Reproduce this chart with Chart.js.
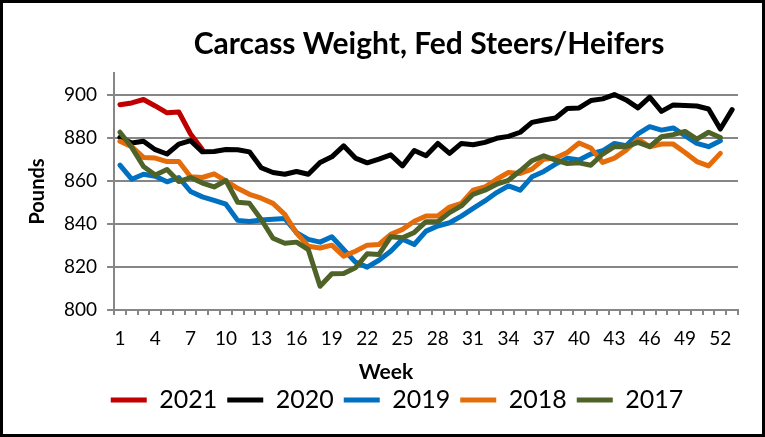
<!DOCTYPE html>
<html>
<head>
<meta charset="utf-8">
<script src="https://cdn.jsdelivr.net/npm/chart.js@4"></script>
<style>
  html, body { margin: 0; padding: 0; background: #fff; }
  #wrap { position: relative; width: 765px; height: 437px; box-sizing: border-box; border: 3px solid #000; background: #fff; }
</style>
</head>
<body>
<div id="wrap"><canvas id="grafico"></canvas></div>
<script>
const semanas = ['1','2','3','4','5','6','7','8','9','10','11','12','13','14','15','16','17','18','19','20',
  '21','22','23','24','25','26','27','28','29','30','31','32','33','34','35','36','37','38','39','40',
  '41','42','43','44','45','46','47','48','49','50','51','52','53'];

const marcasY = [800, 820, 840, 860, 880, 900];

const peso2021 = [895.3, 896.1, 897.7, 894.7, 891.5, 891.9, 881.7, 874.5];

const peso2020 = [880.1, 877.5, 878.3, 874.4, 872.4, 877.0, 878.6, 873.4, 873.6, 874.5,
  874.4, 873.4, 866.0, 863.8, 863.0, 864.3, 863.0, 868.5, 871.1, 876.2,
  870.5, 868.3, 870.0, 872.0, 866.9, 874.0, 871.6, 877.3, 872.7, 877.3,
  876.7, 877.8, 879.7, 880.6, 882.5, 887.1, 888.2, 889.1, 893.5, 893.8,
  897.2, 898.0, 900.0, 897.5, 893.8, 898.8, 892.2, 895.2, 894.9, 894.7,
  893.3, 884.0, 893.0];

const peso2019 = [867.2, 860.7, 863.0, 862.1, 859.5, 861.5, 855.0, 852.5, 850.9, 849.1,
  841.6, 841.1, 841.8, 842.1, 842.5, 835.9, 832.8, 831.5, 834.0, 828.1,
  822.2, 819.9, 823.1, 827.3, 832.8, 830.4, 836.6, 839.0, 840.5, 843.6,
  847.2, 850.6, 854.5, 857.6, 855.6, 861.8, 864.3, 867.7, 870.5, 869.6,
  872.4, 873.9, 877.3, 876.2, 881.7, 885.1, 883.5, 884.5, 880.9, 877.3,
  875.8, 878.6];

const peso2018 = [878.3, 875.8, 870.8, 870.5, 868.9, 868.9, 861.8, 861.5, 863.2, 859.9,
  856.5, 853.7, 851.9, 849.5, 844.4, 835.7, 829.6, 828.8, 830.1, 825.0,
  827.3, 830.1, 830.4, 835.1, 837.4, 841.2, 843.6, 843.6, 847.8, 849.5,
  855.6, 857.1, 860.7, 863.8, 863.4, 865.4, 870.0, 870.5, 873.1, 877.5,
  875.2, 868.5, 870.5, 874.2, 879.3, 875.8, 877.0, 877.0, 873.1, 868.9,
  866.9, 872.7];

const peso2017 = [882.5, 875.5, 866.6, 862.7, 865.2, 859.6, 861.5, 858.9, 857.1, 860.1,
  850.0, 849.5, 842.0, 833.3, 831.0, 831.5, 828.0, 811.0, 816.8, 816.9,
  819.6, 826.1, 825.8, 834.0, 833.5, 836.0, 841.0, 841.0, 845.2, 848.3,
  853.7, 855.6, 858.4, 860.2, 864.6, 869.3, 871.6, 869.6, 868.0, 868.3,
  867.2, 872.4, 875.8, 875.8, 877.8, 875.8, 880.4, 881.4, 882.9, 879.3,
  882.5, 880.1];

const cinza = '#868686';
const fonte = 'Lato, "Open Sans", sans-serif';

// moves title / subtitle / legend boxes to where they sit in the original
function mover(box, cx, cy) {
  const dx = cx - (box.left + box.right) / 2;
  const dy = cy - (box.top + box.bottom) / 2;
  box.left += dx; box.right += dx;
  box.top += dy; box.bottom += dy;
}

const posicoes = {
  id: 'posicoes',
  afterLayout(chart) {
    chart.boxes.forEach(b => {
      if (b === chart.titleBlock) {
        mover(b, 426, 41);
      } else if (b === chart.legend) {
        mover(b, 394, 397);
      } else if (b.options && b.options.text === 'Week') {
        mover(b, 383, 369);
      }
    });
  }
};

function serie(label, data, cor, ordem) {
  return {
    label: label,
    data: data,
    borderColor: cor,
    backgroundColor: cor,
    borderWidth: 5,
    borderJoinStyle: 'round',
    borderCapStyle: 'round',
    pointRadius: 0,
    pointHoverRadius: 0,
    pointStyle: 'line',
    tension: 0,
    order: ordem
  };
}

const config = {
  type: 'line',
  data: {
    labels: semanas,
    datasets: [
      serie('2021', peso2021, '#C00000', 5),
      serie('2020', peso2020, '#000000', 4),
      serie('2019', peso2019, '#0070C0', 3),
      serie('2018', peso2018, '#E46C0A', 2),
      serie('2017', peso2017, '#4F6228', 1)
    ]
  },
  options: {
    responsive: true,
    maintainAspectRatio: false,
    animation: false,
    layout: { padding: { left: 13, right: 24, top: 34, bottom: 2 } },
    plugins: {
      title: {
        display: true,
        text: 'Carcass Weight, Fed Steers/Heifers',
        color: '#000',
        font: { family: fonte, size: 30, weight: 'bold' },
        padding: 0
      },
      subtitle: {
        display: true,
        text: 'Week',
        position: 'bottom',
        weight: 500,
        color: '#000',
        font: { family: fonte, size: 21, weight: 'bold' },
        padding: 0
      },
      legend: {
        position: 'bottom',
        labels: {
          color: '#000',
          font: { family: fonte, size: 25 },
          usePointStyle: true,
          pointStyle: 'line',
          pointStyleWidth: 36,
          padding: 10,
          sort: (a, b) => a.datasetIndex - b.datasetIndex
        }
      },
      tooltip: { enabled: false }
    },
    scales: {
      x: {
        offset: true,
        grid: {
          offset: true,
          drawOnChartArea: false,
          color: cinza,
          lineWidth: 2,
          tickLength: 5
        },
        border: { color: cinza, width: 2 },
        ticks: {
          autoSkip: false,
          maxRotation: 0,
          color: '#000',
          padding: 12,
          font: { family: fonte, size: 19 },
          callback: function (v, i) { return i % 3 === 0 ? this.getLabelForValue(v) : ''; }
        }
      },
      y: {
        min: 800,
        max: 910,
        afterBuildTicks: s => { s.ticks = marcasY.map(v => ({ value: v })); },
        grid: { color: cinza, lineWidth: 2, tickLength: 7 },
        border: { color: cinza, width: 2 },
        ticks: {
          color: '#000',
          padding: 10,
          font: { family: fonte, size: 19 }
        },
        title: {
          display: true,
          text: 'Pounds',
          color: '#000',
          font: { family: fonte, size: 20, weight: 'bold' },
          padding: { top: 10, bottom: 4 }
        }
      }
    }
  },
  plugins: [posicoes]
};

const grafico = new Chart(document.getElementById('grafico'), config);
</script>
</body>
</html>
